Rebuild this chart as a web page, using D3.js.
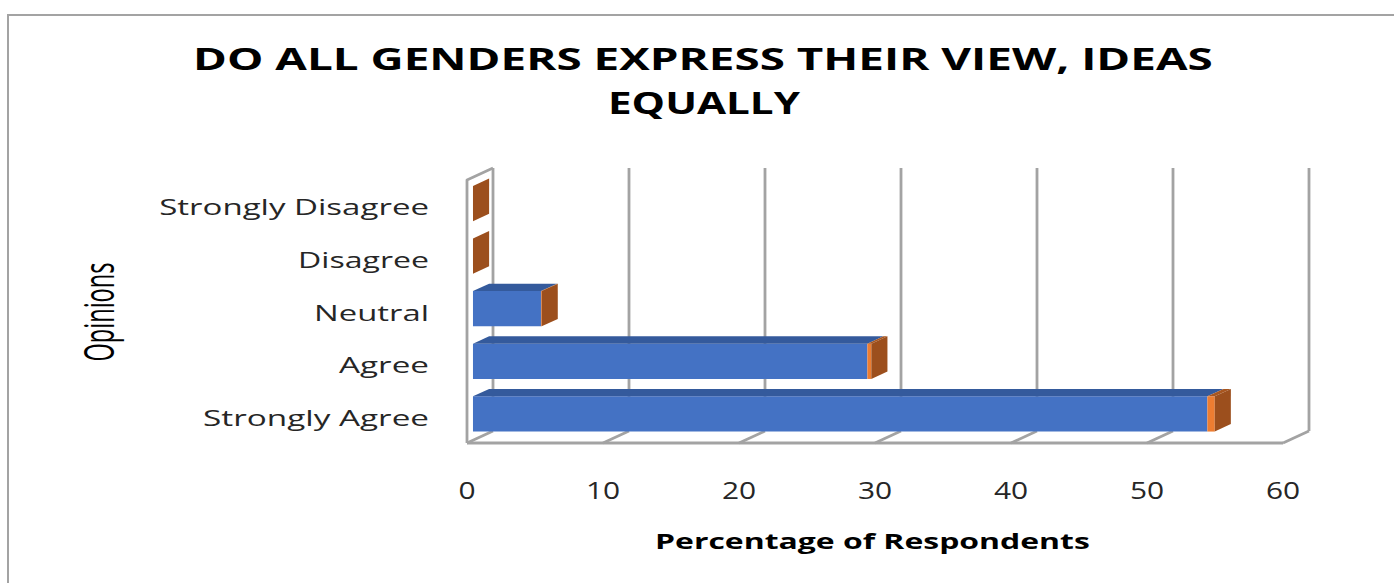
<!DOCTYPE html>
<html>
<head>
<meta charset="utf-8">
<script src="https://cdn.jsdelivr.net/npm/d3@7/dist/d3.min.js"></script>
<style>
  html, body { margin: 0; padding: 0; background: #ffffff; }
  svg { display: block; }
</style>
</head>
<body>
<svg id="chart" width="1394" height="583"></svg>
<script>
// ---- data ----
const categories = ["Strongly Agree", "Agree", "Neutral", "Disagree", "Strongly Disagree"];
const seriesNames = ["Percentage", "Share"];
const percentValues = [54, 29, 5, 0, 0];
const shareValues = [0.54, 0.29, 0.05, 0, 0];
const xTicks = [0, 10, 20, 30, 40, 50, 60];
const titleLines = ["DO ALL GENDERS EXPRESS THEIR VIEW, IDEAS", "EQUALLY"];
const xTitle = "Percentage of Respondents";
const yTitle = "Opinions";

// ---- layout ----
const svg = d3.select("#chart");
const W = 1394, H = 583;
const DX = 26, DY = -12;          // full depth offset
const D0 = 0.23, D1 = 0.85;       // bar depth range
const gridColor = "#a3a3a3";
const FONT = "'Open Sans', 'DejaVu Sans', sans-serif";
const faceColors = [
  { front: "#4472C4", top: "#345A9C", side: "#2F528F" },
  { front: "#ED7D31", top: "#A8561F", side: "#9C4F1D" }
];

const x = d3.scaleLinear().domain([0, 60]).range([467, 1283]);
const y = d3.scaleBand()
  .domain(categories.slice().reverse())
  .range([180, 443])
  .paddingInner(0.33)
  .paddingOuter(0.165);

const P = (px, py, d) => [px + d * DX, py + d * DY];
const poly = pts => "M" + pts.map(p => p.join(",")).join("L") + "Z";

// text helper: horizontally stretched text fitted to a target width
function wideText(str, px, py, width, opts) {
  const gT = svg.append("g");
  const t = gT.append("text")
    .attr("text-anchor", opts.anchor || "start")
    .attr("font-family", FONT)
    .attr("font-weight", opts.weight || "normal")
    .attr("font-size", opts.size)
    .attr("fill", opts.fill || "#000")
    .text(str);
  const natural = t.node().getComputedTextLength();
  const k = width ? width / natural : (opts.k || 1);
  gT.attr("transform", `translate(${px},${py}) scale(${k},1)`);
  return t;
}

// border
svg.append("path")
  .attr("d", `M8,${H}L8,15L${W},15`)
  .attr("fill", "none").attr("stroke", gridColor).attr("stroke-width", 2);

// title
wideText(titleLines[0], 193, 70, 1020, { size: 31, weight: "bold" });
wideText(titleLines[1], 608, 114, 192, { size: 31, weight: "bold" });

const yTop = y.range()[0], yBot = y.range()[1];
const g = svg.append("g");
const lw = 2.8;

// back wall gridlines
xTicks.forEach(v => {
  const a = P(x(v), yBot, 1), b = P(x(v), yTop, 1);
  g.append("line").attr("x1", a[0]).attr("y1", a[1]).attr("x2", b[0]).attr("y2", b[1])
    .attr("stroke", gridColor).attr("stroke-width", lw);
});
// floor diagonals
xTicks.forEach(v => {
  const a = P(x(v), yBot, 0), b = P(x(v), yBot, 1);
  g.append("line").attr("x1", a[0]).attr("y1", a[1]).attr("x2", b[0]).attr("y2", b[1])
    .attr("stroke", gridColor).attr("stroke-width", lw);
});
// floor front edge
g.append("line").attr("x1", x(0)).attr("y1", yBot).attr("x2", x(60)).attr("y2", yBot)
  .attr("stroke", gridColor).attr("stroke-width", lw);
// left wall
{
  const a = P(x(0), yBot, 0), b = P(x(0), yTop, 0), c = P(x(0), yTop, 1);
  g.append("path").attr("d", `M${a}L${b}L${c}`)
    .attr("fill", "none").attr("stroke", gridColor).attr("stroke-width", lw)
    .attr("stroke-linejoin", "round");
}

// stacked bars
const rows = categories.map((c, i) => ({ cat: c, Percentage: percentValues[i], Share: shareValues[i] }));
const stacked = d3.stack().keys(seriesNames)(rows);

const barsG = svg.append("g");
categories.slice().reverse().forEach(cat => {
  const ci = categories.indexOf(cat);
  const y0 = y(cat), y1 = y(cat) + y.bandwidth();
  stacked.forEach((s, si) => {
    const seg = s[ci];
    const xa = x(seg[0]), xb = x(seg[1]);
    const col = faceColors[si];
    barsG.append("path")
      .attr("d", poly([P(xa, y0, D0), P(xb, y0, D0), P(xb, y1, D0), P(xa, y1, D0)]))
      .attr("fill", col.front);
    barsG.append("path")
      .attr("d", poly([P(xa, y0, D0), P(xb, y0, D0), P(xb, y0, D1), P(xa, y0, D1)]))
      .attr("fill", col.top);
    if (si === stacked.length - 1) {
      barsG.append("path")
        .attr("d", poly([P(xb, y0, D0), P(xb, y0, D1), P(xb, y1, D1), P(xb, y1, D0)]))
        .attr("fill", col.side);
    }
  });
});

// category labels
const catWidths = { "Strongly Agree": 226, "Agree": 90, "Neutral": 115, "Disagree": 131, "Strongly Disagree": 270 };
categories.forEach(cat => {
  wideText(cat, 429, y(cat) + y.bandwidth() / 2 + 9, catWidths[cat],
    { size: 21, anchor: "end", fill: "#262626" });
});

// x tick labels
xTicks.forEach(v => {
  wideText(String(v), x(v), 499, null, { size: 23, anchor: "middle", k: 1.3, fill: "#262626" });
});

// x title
wideText(xTitle, 655, 549, 435, { size: 22, weight: "bold" });

// y title (rotated, stretched in screen x)
{
  const gT = svg.append("g");
  const t = gT.append("text")
    .attr("text-anchor", "middle")
    .attr("font-family", FONT)
    .attr("font-size", 21)
    .attr("fill", "#000")
    .text(yTitle);
  const natural = t.node().getComputedTextLength();
  const fs = 21 * 99 / natural;
  t.attr("font-size", fs);
  gT.attr("transform", `translate(114,312) scale(1.75,1) rotate(-90)`);
}
</script>
</body>
</html>
